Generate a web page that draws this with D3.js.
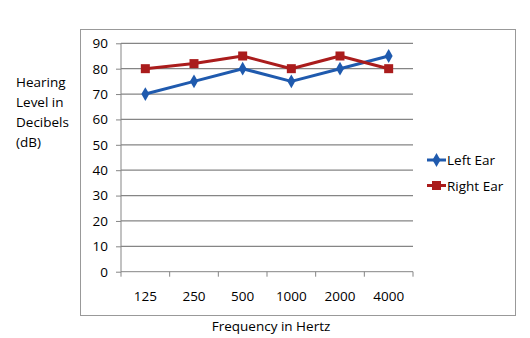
<!DOCTYPE html>
<html><head><meta charset="utf-8">
<script src="https://cdn.jsdelivr.net/npm/d3@7"></script>
<style>body{margin:0;background:#fff}svg{display:block}text{font-family:"Open Sans","Liberation Sans",sans-serif;fill:#000}</style>
</head><body><svg id="c" width="530" height="338"></svg>
<script>
const categories = ["125","250","500","1000","2000","4000"];
const leftEar = [70,75,80,75,80,85];
const rightEar = [80,82,85,80,85,80];
const yTicks = [0,10,20,30,40,50,60,70,80,90];
const seriesNames = ["Left Ear","Right Ear"];
const colors = ["#1F5AAE","#AA1C1C"];

const svg = d3.select("#c");
svg.append("rect").attr("x",80.5).attr("y",29.5).attr("width",435).attr("height",286)
  .attr("fill","#fff").attr("stroke","#999").attr("stroke-width",1);

const L=121, R=413, T=43.3, B=271.7;
const x = d3.scaleBand().domain(categories).range([L,R]);
const y = d3.scaleLinear().domain([0,90]).range([B,T]);

svg.append("g").selectAll("line").data(yTicks.filter(d=>d>0)).join("line")
  .attr("x1",L).attr("x2",R).attr("y1",d=>y(d)).attr("y2",d=>y(d))
  .attr("stroke","#858585").attr("stroke-width",1.3);

const ya = svg.append("g").attr("transform",`translate(${L},0)`)
  .call(d3.axisLeft(y).tickValues(yTicks).tickSize(5).tickPadding(8));
ya.select(".domain").attr("stroke","#858585").attr("d",`M0,${T}V${B}`);
ya.selectAll(".tick line").attr("stroke","#858585");
ya.selectAll("text").style("font-size","13.5px").attr("fill","#000");

const xa = svg.append("g").attr("transform",`translate(0,${B})`)
  .call(d3.axisBottom(x).tickSize(0).tickPadding(20));
xa.select(".domain").attr("stroke","#858585").attr("d",`M${L},0H${R}`);
xa.selectAll("text").style("font-size","13.5px").attr("fill","#000");
const bounds = categories.map(c=>x(c)).concat([R]);
svg.append("g").selectAll("line").data(bounds).join("line")
  .attr("x1",d=>d).attr("x2",d=>d).attr("y1",B).attr("y2",B+5)
  .attr("stroke","#858585");

const data = [leftEar,rightEar];
const line = d3.line().x((d,i)=>x(categories[i])+x.bandwidth()/2).y(d=>y(d));
data.forEach((s,k)=>{
  svg.append("path").datum(s).attr("d",line).attr("fill","none")
    .attr("stroke",colors[k]).attr("stroke-width",3).attr("stroke-linejoin","round");
});
const diamond = d3.symbol().type(d3.symbolDiamond).size(55);
svg.append("g").selectAll("path").data(leftEar).join("path")
  .attr("transform",(d,i)=>`translate(${x(categories[i])+x.bandwidth()/2},${y(d)})`)
  .attr("d",diamond).attr("fill",colors[0]);
svg.append("g").selectAll("rect").data(rightEar).join("rect")
  .attr("x",(d,i)=>x(categories[i])+x.bandwidth()/2-4.5).attr("y",d=>y(d)-4.5)
  .attr("width",9).attr("height",9).attr("fill",colors[1]);

seriesNames.forEach((n,k)=>{
  const ly = [160,185.5][k];
  svg.append("line").attr("x1",427).attr("x2",446).attr("y1",ly).attr("y2",ly)
    .attr("stroke",colors[k]).attr("stroke-width",3);
  if(k===0) svg.append("path").attr("transform",`translate(436.5,${ly})`).attr("d",diamond).attr("fill",colors[0]);
  else svg.append("rect").attr("x",432).attr("y",ly-4.5).attr("width",9).attr("height",9).attr("fill",colors[1]);
  svg.append("text").attr("x",447).attr("y",ly+5).style("font-size","13.5px").text(n);
});

["Hearing","Level in","Decibels","(dB)"].forEach((t,i)=>{
  svg.append("text").attr("x",16).attr("y",87+i*20).style("font-size","13.5px").text(t);
});
svg.append("text").attr("x",271).attr("y",331).attr("text-anchor","middle")
  .style("font-size","13.5px").text("Frequency in Hertz");
</script></body></html>
